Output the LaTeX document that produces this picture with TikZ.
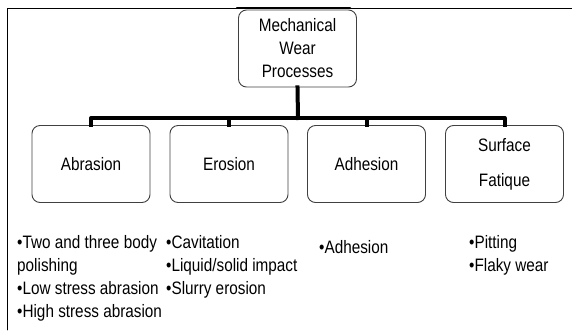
\documentclass[tikz,border=0pt]{standalone}
\usepackage{fontspec}
\setmainfont{Liberation Sans}[FakeStretch=0.85]
\begin{document}
\begin{tikzpicture}[x=1pt, y=-1pt, line cap=round, line join=round,
    box/.style={draw=black!75, line width=0.9pt, rounded corners=8pt, minimum width=118pt, minimum height=77pt, align=center, font=\fontsize{18}{23}\selectfont, text=black},
    bus/.style={line width=4pt, line cap=rect},
    items/.style={anchor=north west, inner sep=0pt, align=left, font=\fontsize{18}{23}\selectfont, text=black}]
        \useasboundingbox (0,0) rectangle (572,330);
        % 外枠(左と上のみ)
        \draw[line width=0.9pt] (7,330) -- (7,8) -- (572,8);
        \draw[line width=2.5pt] (237,8) -- (350,8);

        % 上の箱と四つの箱
        \node[box] (root) at (297.5,48.5) {Mechanical\\Wear\\Processes};
        \node[box] (abr) at (91,164) {Abrasion};
        \node[box] (ero) at (229,164) {Erosion};
        \node[box] (adh) at (366.5,164) {Adhesion};
        \node[box] (fat) at (504.5,164) {Surface\\[12pt]Fatique};

        % 太い線でつなぐ
        \coordinate (bus) at (298,118);
        \draw[bus] (root.south) -- (bus);
        \draw[bus] (abr.north) |- (bus);
        \draw[bus] (fat.north) |- (bus);
        \draw[bus] (ero.north) -- (ero.north |- bus);
        \draw[bus] (adh.north) -- (adh.north |- bus);

        % 箱の下の項目
        \node[items] (abrlist) at (17,235) {•Two and three body\\polishing\\•Low stress abrasion\\•High stress abrasion};
        \node[items] (erolist) at (166,235) {•Cavitation\\•Liquid/solid impact\\•Slurry erosion};
        \node[items] (adhlist) at (319,240) {•Adhesion};
        \node[items] (fatlist) at (469,235) {•Pitting\\•Flaky wear};
\end{tikzpicture}
\end{document}
